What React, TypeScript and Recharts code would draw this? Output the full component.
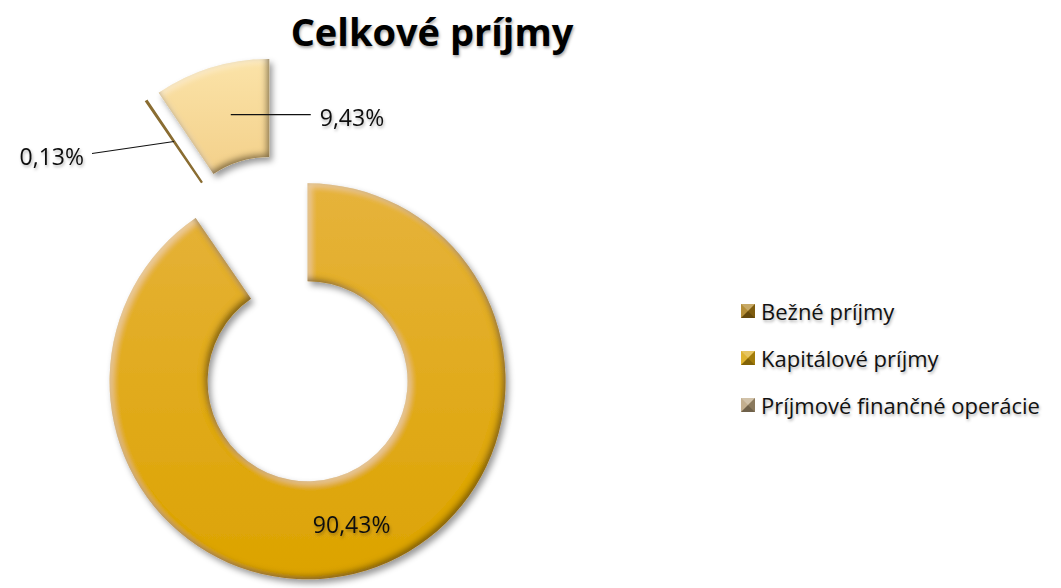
import { PieChart, Pie, Cell, Legend } from 'recharts';

// shares in percent, legend order
const categories = ['Bežné príjmy', 'Kapitálové príjmy', 'Príjmové finančné operácie'];
const shares = [90.43, 9.43, 0.13];
// order in which the slices go round the ring (clockwise from 12 o'clock)
const ringOrder = [0, 2, 1];

const sliceFills = ['url(#ringGold)', 'url(#kapTan)', '#8a6d32'];
const markerColors = ['#a97b14', '#d9a60c', '#b9a27c'];
const explode = [83, 47, 45];

const RADIAN = Math.PI / 180;
const FONT = '"Open Sans", "Noto Sans", sans-serif';

const pieData = ringOrder.map((i) => ({ name: categories[i], value: shares[i], cat: i }));
const total = pieData.reduce((s, d) => s + d.value, 0);

// mid angle of every slice, same convention as recharts (deg, ccw from 3 o'clock)
const midAngles: number[] = [];
pieData.reduce((acc, d) => {
  midAngles.push(90 - ((acc + d.value / 2) / total) * 360);
  return acc + d.value;
}, 0);

const offsetOf = (idx: number) => {
  const d = explode[pieData[idx].cat];
  const a = midAngles[idx] * RADIAN;
  return { dx: d * Math.cos(a), dy: -d * Math.sin(a) };
};

const fmt = (v: number) => v.toFixed(2).replace('.', ',') + '%';

const renderLabel = (props: any) => {
  const { cx, cy, midAngle, innerRadius, outerRadius, index, value } = props;
  const { dx, dy } = offsetOf(index);
  const r = (innerRadius + outerRadius) / 2;
  const x = cx + dx + r * Math.cos(-midAngle * RADIAN);
  const y = cy + dy + r * Math.sin(-midAngle * RADIAN);
  const cat = pieData[index].cat;
  const textStyle = { fontFamily: FONT, fontSize: 23, fill: '#111', filter: 'url(#txtShadow)' };
  if (cat === 0) {
    return (
      <text x={x} y={y} textAnchor="middle" dominantBaseline="central" style={textStyle}>
        {fmt(value)}
      </text>
    );
  }
  if (cat === 1) {
    return (
      <g>
        <line x1={x + 5} y1={y} x2={x + 85} y2={y} stroke="#111" strokeWidth={1.2} />
        <text x={x + 94} y={y + 2} dominantBaseline="central" style={textStyle}>
          {fmt(value)}
        </text>
      </g>
    );
  }
  return (
    <g>
      <line x1={x} y1={y} x2={x - 82} y2={y + 12} stroke="#111" strokeWidth={1.2} />
      <text x={x - 90} y={y + 14} textAnchor="end" dominantBaseline="central" style={textStyle}>
        {fmt(value)}
      </text>
    </g>
  );
};

const Marker = ({ color }: { color: string }) => (
  <svg width={14} height={14} style={{ marginRight: 6, flexShrink: 0 }}>
    <rect x={0} y={0} width={14} height={14} fill={color} />
    <polygon points="0,0 14,0 7,7" fill="#fff" opacity={0.35} />
    <polygon points="0,0 0,14 7,7" fill="#fff" opacity={0.15} />
    <polygon points="14,0 14,14 7,7" fill="#000" opacity={0.25} />
    <polygon points="0,14 14,14 7,7" fill="#000" opacity={0.4} />
  </svg>
);

const renderLegend = () => (
  <div style={{ fontFamily: FONT, fontSize: 22, color: '#111' }}>
    {categories.map((c, i) => (
      <div
        key={c}
        style={{ display: 'flex', alignItems: 'center', height: 47, textShadow: '1px 2px 3px rgba(0,0,0,0.3)' }}
      >
        <Marker color={markerColors[i]} />
        <span>{c}</span>
      </div>
    ))}
  </div>
);

export default function App() {
  return (
    <div style={{ position: 'absolute', left: 0, top: 0, width: 1061, height: 588, background: '#fff' }}>
      <div
        style={{
          position: 'absolute',
          left: 232,
          width: 400,
          top: 5,
          textAlign: 'center',
          fontFamily: FONT,
          fontWeight: 700,
          fontSize: 38,
          color: '#000',
          textShadow: '1px 2px 3px rgba(0,0,0,0.35)',
        }}
      >
        Celkové príjmy
      </div>
      <PieChart width={1061} height={588} margin={{ top: 0, right: 0, bottom: 0, left: 0 }}>
        <defs>
          <linearGradient id="ringGold" x1="0" y1="0" x2="0" y2="1">
            <stop offset="0%" stopColor="#e6b33c" />
            <stop offset="100%" stopColor="#dca300" />
          </linearGradient>
          <linearGradient id="kapTan" x1="0" y1="0" x2="0" y2="1">
            <stop offset="0%" stopColor="#fbe3a8" />
            <stop offset="100%" stopColor="#f3d08a" />
          </linearGradient>
          <filter id="bevel" x="-15%" y="-15%" width="135%" height="135%">
            <feGaussianBlur in="SourceAlpha" stdDeviation="3" result="b" />
            <feOffset in="b" dx="-3" dy="-3" result="ob" />
            <feComposite in="SourceAlpha" in2="ob" operator="out" result="edge" />
            <feFlood floodColor="#4a3500" floodOpacity="0.8" />
            <feComposite in2="edge" operator="in" result="dark" />
            <feOffset in="b" dx="3" dy="3" result="ob2" />
            <feComposite in="SourceAlpha" in2="ob2" operator="out" result="edge2" />
            <feFlood floodColor="#fff" floodOpacity="0.35" />
            <feComposite in2="edge2" operator="in" result="light" />
            <feOffset in="b" dx="3" dy="4" result="sh" />
            <feFlood floodColor="#000" floodOpacity="0.4" />
            <feComposite in2="sh" operator="in" result="shadow" />
            <feMerge>
              <feMergeNode in="shadow" />
              <feMergeNode in="SourceGraphic" />
              <feMergeNode in="light" />
              <feMergeNode in="dark" />
            </feMerge>
          </filter>
          <filter id="txtShadow" x="-10%" y="-30%" width="130%" height="170%">
            <feDropShadow dx="1" dy="2" stdDeviation="1.5" floodColor="#000" floodOpacity="0.3" />
          </filter>
        </defs>
        <Pie
          data={pieData}
          dataKey="value"
          nameKey="name"
          cx={283}
          cy={302}
          innerRadius={100}
          outerRadius={198}
          startAngle={90}
          endAngle={-270}
          stroke="none"
          label={renderLabel}
          labelLine={false}
          isAnimationActive={false}
        >
          {pieData.map((d, i) => {
            const { dx, dy } = offsetOf(i);
            const thin = d.cat === 2;
            return (
              <Cell
                key={d.name}
                fill={sliceFills[d.cat]}
                stroke={thin ? '#8a6d32' : 'none'}
                strokeWidth={thin ? 1.5 : 0}
                filter={thin ? undefined : 'url(#bevel)'}
                transform={`translate(${dx}, ${dy})`}
              />
            );
          })}
        </Pie>
        <Legend
          layout="vertical"
          align="right"
          verticalAlign="middle"
          content={renderLegend}
          wrapperStyle={{ left: 741, top: 287, right: 'auto', width: 320 }}
        />
      </PieChart>
    </div>
  );
}
